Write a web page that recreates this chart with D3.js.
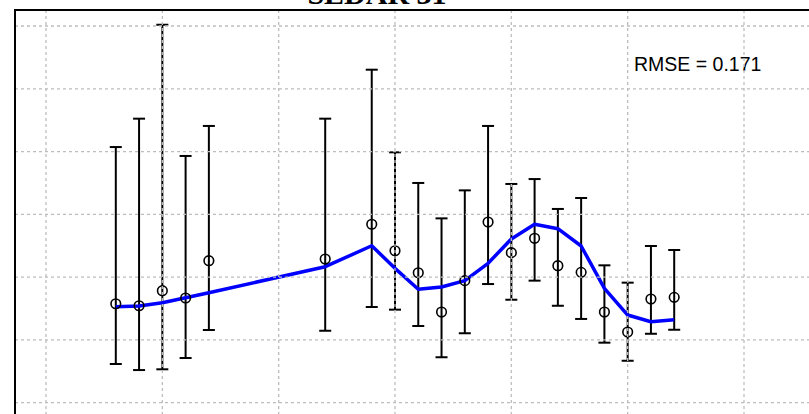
<!DOCTYPE html>
<html>
<head>
<meta charset="utf-8">
<script src="https://cdn.jsdelivr.net/npm/d3@7"></script>
<style>
  html, body { margin: 0; padding: 0; background: #fff; overflow: hidden; }
  svg { display: block; }
</style>
</head>
<body>
<script>
// ---- data ----
const title = "SEDAR 31";
const rmseLabel = "RMSE = 0.171";
const years = [1983, 1984, 1985, 1986, 1987, 1992, 1994, 1995, 1996, 1997,
               1998, 1999, 2000, 2001, 2002, 2003, 2004, 2005, 2006, 2007];
const observed = [0.788, 0.772, 0.892, 0.834, 1.131, 1.144, 1.421, 1.210, 1.035, 0.722,
                  0.972, 1.439, 1.195, 1.309, 1.091, 1.038, 0.722, 0.563, 0.826, 0.839];
const upperCI = [2.036, 2.262, 3.010, 1.965, 2.204, 2.262, 2.652, 1.994, 1.750, 1.468,
                 1.691, 2.204, 1.742, 1.781, 1.543, 1.630, 1.094, 0.956, 1.248, 1.216];
const lowerCI = [0.308, 0.260, 0.266, 0.356, 0.579, 0.573, 0.762, 0.741, 0.611, 0.362,
                 0.553, 0.945, 0.820, 0.972, 0.772, 0.667, 0.478, 0.334, 0.549, 0.581];
const fitted = [0.765, 0.770, 0.796, 0.836, 0.876, 1.083, 1.250, 1.070, 0.903, 0.921,
                0.972, 1.110, 1.304, 1.421, 1.386, 1.248, 0.911, 0.698, 0.645, 0.661];
const xGridYears = [1980, 1985, 1990, 1995, 2000, 2005, 2010, 2015];
const yGridValues = [0, 0.5, 1.0, 1.5, 2.0, 2.5, 3.0];

// ---- layout ----
const W = 809, H = 414;
const svg = d3.select("body").append("svg").attr("width", W).attr("height", H);

const x = d3.scaleLinear().domain([1980, 2010]).range([46, 744]);
const y = d3.scaleLinear().domain([0, 3]).range([402.7, 26]);

const plotLeft = 15, plotTop = 10, plotRight = 900, plotBottom = 460;

// title (mostly cut off at the top, as in the reference)
svg.append("text")
  .attr("x", 377).attr("y", 4)
  .attr("text-anchor", "middle")
  .attr("font-family", "Liberation Serif, Times New Roman, serif")
  .attr("font-weight", "bold")
  .attr("font-size", 30)
  .attr("fill", "#000")
  .text(title);

const data = years.map((yr, i) => ({
  year: yr, obs: observed[i], lo: lowerCI[i], hi: upperCI[i], fit: fitted[i]
}));

// error bars
const bars = svg.append("g").attr("stroke", "#000").attr("stroke-width", 2).attr("fill", "none");
bars.selectAll("line.v").data(data).join("line").attr("class", "v")
  .attr("x1", d => x(d.year)).attr("x2", d => x(d.year))
  .attr("y1", d => y(d.hi)).attr("y2", d => y(d.lo));
bars.selectAll("line.capHi").data(data).join("line").attr("class", "capHi")
  .attr("x1", d => x(d.year) - 6).attr("x2", d => x(d.year) + 6)
  .attr("y1", d => y(d.hi)).attr("y2", d => y(d.hi));
bars.selectAll("line.capLo").data(data).join("line").attr("class", "capLo")
  .attr("x1", d => x(d.year) - 6).attr("x2", d => x(d.year) + 6)
  .attr("y1", d => y(d.lo)).attr("y2", d => y(d.lo));

// fitted line
svg.append("path")
  .datum(data)
  .attr("fill", "none")
  .attr("stroke", "#0000ff")
  .attr("stroke-width", 3.5)
  .attr("stroke-linejoin", "round")
  .attr("d", d3.line().x(d => x(d.year)).y(d => y(d.fit)));

// observed points
svg.append("g").selectAll("circle").data(data).join("circle")
  .attr("cx", d => x(d.year)).attr("cy", d => y(d.obs))
  .attr("r", 4.8)
  .attr("fill", "none")
  .attr("stroke", "#000")
  .attr("stroke-width", 1.6);

// RMSE label
svg.append("text")
  .attr("x", 634).attr("y", 71)
  .attr("font-family", "Liberation Sans, Arial, sans-serif")
  .attr("font-size", 19.5)
  .attr("fill", "#000")
  .text(rmseLabel);

// grid (drawn on top, like R's grid())
const grid = svg.append("g").attr("stroke", "#bdbdbd").attr("stroke-width", 1.3)
  .attr("stroke-dasharray", "3,3");
grid.selectAll("line.gx").data(xGridYears).join("line").attr("class", "gx")
  .attr("x1", d => x(d)).attr("x2", d => x(d))
  .attr("y1", plotTop).attr("y2", plotBottom);
grid.selectAll("line.gy").data(yGridValues).join("line").attr("class", "gy")
  .attr("x1", plotLeft).attr("x2", plotRight)
  .attr("y1", d => y(d)).attr("y2", d => y(d));

// plot box
svg.append("rect")
  .attr("x", plotLeft).attr("y", plotTop)
  .attr("width", plotRight - plotLeft).attr("height", plotBottom - plotTop)
  .attr("fill", "none").attr("stroke", "#000").attr("stroke-width", 2);
</script>
</body>
</html>
